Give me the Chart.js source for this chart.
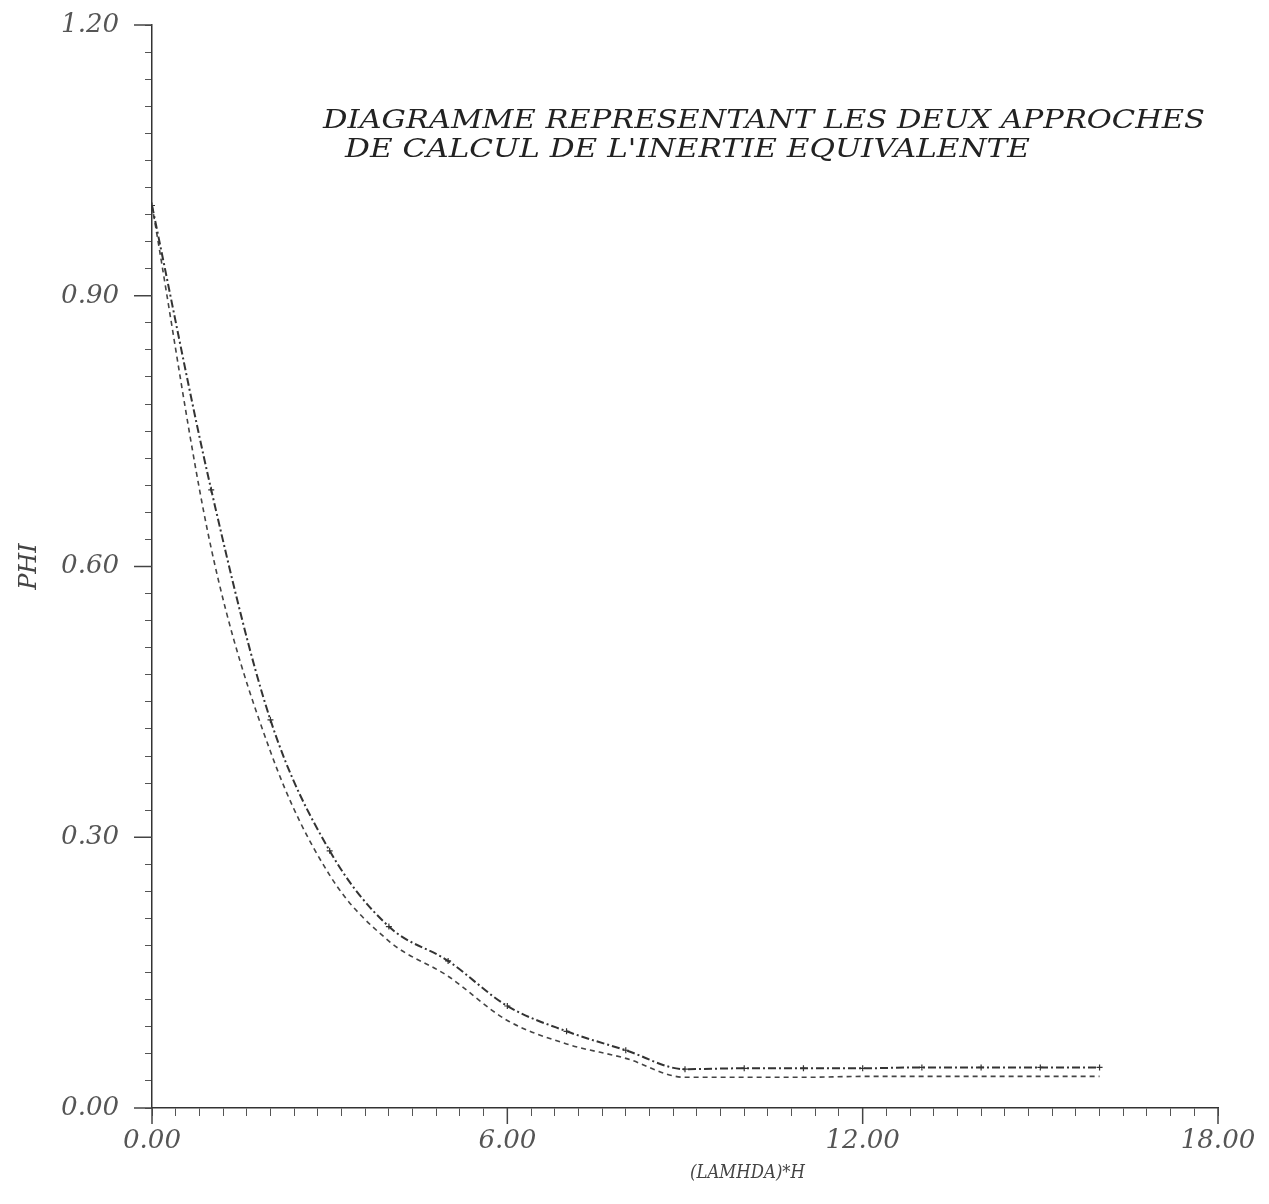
<!DOCTYPE html>
<html>
<head>
<meta charset="utf-8">
<script src="https://cdn.jsdelivr.net/npm/chart.js@4.4.1/dist/chart.umd.min.js"></script>
<style>
	body { margin: 0; background: #fff; }
	#wrap { width: 1269px; height: 1204px; }
</style>
</head>
<body>
<div id="wrap"><canvas id="phiChart" width="1269" height="1204"></canvas></div>
<script>
// values
var lambdaH = [0, 1, 2, 3, 4, 5, 6, 7, 8, 9, 10, 11, 12, 13, 14, 15, 16];
var phiApproche1 = [1.00, 0.685, 0.43, 0.285, 0.201, 0.163, 0.113, 0.085, 0.064, 0.043, 0.044, 0.044, 0.044, 0.045, 0.045, 0.045, 0.045];
var phiApproche2 = [1.00, 0.62, 0.395, 0.258, 0.185, 0.146, 0.097, 0.071, 0.055, 0.034, 0.034, 0.034, 0.035, 0.035, 0.035, 0.035, 0.035];
var xLabels = [0, 6, 12, 18];
var yLabels = [0, 0.3, 0.6, 0.9, 1.2];
var titleLines = ["DIAGRAMME REPRESENTANT LES DEUX APPROCHES", "DE CALCUL DE L'INERTIE EQUIVALENTE"];
var xTitle = "(LAMHDA)*H";
var yTitle = "PHI";

var serif = "'DejaVu Serif', 'Liberation Serif', serif";

function toPoints(xs, ys) {
	var pts = [];
	for (var i = 0; i < xs.length; i++) {
		pts.push({ x: xs[i], y: ys[i] });
	}
	return pts;
}

function isLabel(v, list) {
	for (var i = 0; i < list.length; i++) {
		if (Math.abs(v - list[i]) < 1e-6) return true;
	}
	return false;
}

// text stretched to a given width, like the plotter lettering
function drawFitted(ctx, text, x, y, width) {
	var w = ctx.measureText(text).width;
	ctx.save();
	ctx.translate(x, y);
	ctx.scale(width / w, 1);
	ctx.fillText(text, 0, 0);
	ctx.restore();
}

var plotterPlugin = {
	id: "plotter",
	beforeDraw: function(chart) {
		var ctx = chart.ctx;
		ctx.save();
		ctx.fillStyle = "#fff";
		ctx.fillRect(0, 0, chart.width, chart.height);
		ctx.restore();
	},
	afterDraw: function(chart) {
		var ctx = chart.ctx;
		var xs = chart.scales.x;
		var ys = chart.scales.y;
		ctx.save();
		// longer marks at the labelled ticks
		ctx.strokeStyle = "#444";
		ctx.lineWidth = 1.5;
		for (var i = 0; i < xLabels.length; i++) {
			var px = xs.getPixelForValue(xLabels[i]);
			ctx.beginPath();
			ctx.moveTo(px, ys.bottom);
			ctx.lineTo(px, ys.bottom + 16);
			ctx.stroke();
		}
		for (var j = 0; j < yLabels.length; j++) {
			var py = ys.getPixelForValue(yLabels[j]);
			ctx.beginPath();
			ctx.moveTo(xs.left - 18, py);
			ctx.lineTo(xs.left, py);
			ctx.stroke();
		}
		// heading inside the plot
		ctx.fillStyle = "#222";
		ctx.textBaseline = "alphabetic";
		ctx.textAlign = "left";
		ctx.font = "italic 26px " + serif;
		drawFitted(ctx, titleLines[0], 323, 128, 882);
		drawFitted(ctx, titleLines[1], 345, 157, 685);
		// x axis name
		ctx.fillStyle = "#444";
		ctx.font = "italic 19px " + serif;
		drawFitted(ctx, xTitle, 690, 1178, 115);
		ctx.restore();
	}
};

var ctx = document.getElementById("phiChart").getContext("2d");
var chart = new Chart(ctx, {
	type: "line",
	data: {
		datasets: [{
			label: "Approche 1",
			data: toPoints(lambdaH, phiApproche1),
			borderColor: "#333",
			borderWidth: 2,
			borderDash: [8, 3, 2, 3],
			pointStyle: "cross",
			pointRadius: 3,
			pointBorderColor: "#333",
			pointBorderWidth: 1.2,
			cubicInterpolationMode: "monotone",
			fill: false
		}, {
			label: "Approche 2",
			data: toPoints(lambdaH, phiApproche2),
			borderColor: "#444",
			borderWidth: 1.6,
			borderDash: [5, 4],
			pointRadius: 0,
			cubicInterpolationMode: "monotone",
			fill: false
		}]
	},
	options: {
		responsive: false,
		animation: false,
		layout: {
			padding: { top: 25, right: 51, bottom: 0, left: 10 }
		},
		plugins: {
			legend: { display: false },
			tooltip: { enabled: false }
		},
		scales: {
			x: {
				type: "linear",
				min: 0,
				max: 18,
				afterFit: function(scale) { scale.height = 96; },
				border: { display: true, color: "#333", width: 1.5 },
				grid: { display: true, drawOnChartArea: false, drawTicks: true, tickLength: 8, color: "#555" },
				ticks: {
					stepSize: 0.4,
					autoSkip: false,
					maxRotation: 0,
					padding: 10,
					color: "#555",
					font: { family: serif, style: "italic", size: 26 },
					callback: function(v) { return isLabel(v, xLabels) ? v.toFixed(2) : ""; }
				}
			},
			y: {
				type: "linear",
				min: 0,
				max: 1.2,
				afterFit: function(scale) {
					scale.width = 142;
					// the label padding would otherwise push the plot top down
					scale.paddingTop = 0;
					scale.paddingBottom = 0;
				},
				border: { display: true, color: "#333", width: 1.5 },
				grid: { display: true, drawOnChartArea: false, drawTicks: true, tickLength: 7, color: "#555" },
				ticks: {
					stepSize: 0.03,
					autoSkip: false,
					padding: 26,
					color: "#555",
					font: { family: serif, style: "italic", size: 26 },
					callback: function(v) { return isLabel(v, yLabels) ? v.toFixed(2) : ""; }
				},
				title: {
					display: true,
					text: yTitle,
					color: "#444",
					padding: { top: 5, bottom: 0 },
					font: { family: serif, style: "italic", size: 24 }
				}
			}
		}
	},
	plugins: [plotterPlugin]
});
</script>
</body>
</html>
